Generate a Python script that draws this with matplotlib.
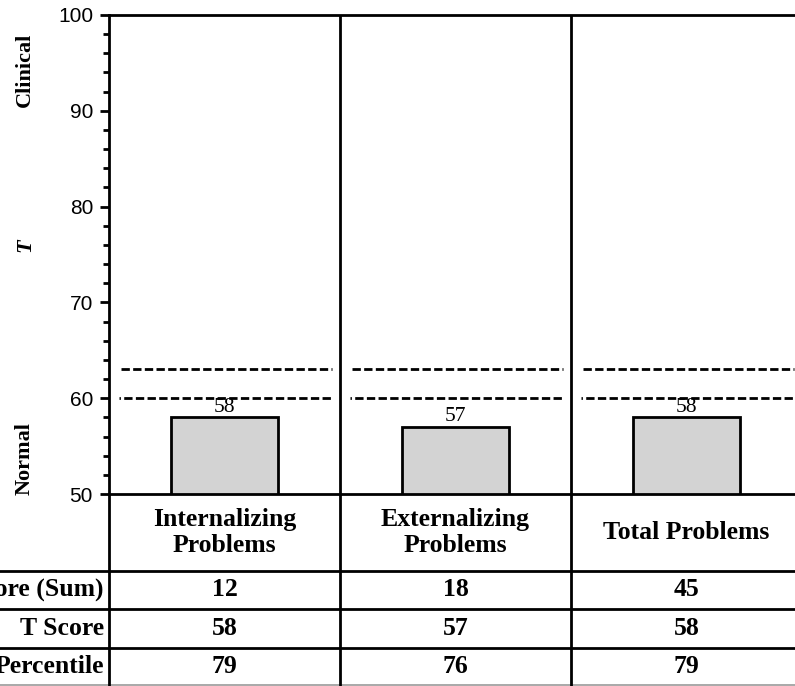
import numpy as np
import matplotlib
matplotlib.use("Agg")
import matplotlib.pyplot as plt
from matplotlib.ticker import MultipleLocator

# data
scales = ["Internalizing\nProblems", "Externalizing\nProblems", "Total Problems"]
t_scores = [58, 57, 58]
raw_scores = [12, 18, 45]
percentiles = [79, 76, 79]
row_labels = ["Raw Score (Sum)", "T Score", "Percentile"]
borderline = [60, 63]

SERIF = "Liberation Serif"
SANS = "Liberation Sans"

W, H = 795, 686
fig = plt.figure(figsize=(W / 100, H / 100), dpi=100)

# layout in pixels
left_px, top_px, base_px, panel_px = 109, 15, 494, 231
n = len(scales)
LW = 2.0

ax = fig.add_axes([left_px / W, (H - base_px) / H,
                   n * panel_px / W, (base_px - top_px) / H])
ax.set_xlim(0, n)
ax.set_ylim(50, 100)

x = np.arange(n) + 0.5
ax.bar(x, [t - 50 for t in t_scores], bottom=50, width=0.46,
       color="#d3d3d3", edgecolor="black", linewidth=LW, zorder=3)
for xi, t in zip(x, t_scores):
    ax.annotate(str(t), (xi, t), xytext=(0, 0.5), textcoords="offset points",
                ha="center", va="bottom", fontsize=15.5, family=SERIF)

# borderline / clinical cut-offs per panel
for i in range(n):
    ax.hlines(borderline[1], i + 0.05, i + 0.965, colors="black",
              linewidth=LW, linestyles=(0, (3, 1.2)), zorder=2)
    ax.hlines(borderline[0], i + 0.045, i + 0.965, colors="black",
              linewidth=LW, linestyles=(2.5, (3, 1.2)), zorder=2)

for i in range(1, n):
    ax.axvline(i, color="black", linewidth=LW)

for s in ["left", "top", "bottom"]:
    ax.spines[s].set_linewidth(LW)
ax.spines["right"].set_visible(False)
ax.set_xticks([])
ax.yaxis.set_major_locator(MultipleLocator(10))
ax.yaxis.set_minor_locator(MultipleLocator(2))
ax.tick_params(axis="y", which="major", length=6.5, width=LW, labelsize=15, pad=5)
ax.tick_params(axis="y", which="minor", length=4, width=LW)
for lab in ax.get_yticklabels():
    lab.set_family(SANS)

# side labels
fig.text(25 / W, 1 - 70 / H, "Clinical", rotation=90, ha="center", va="center",
         fontsize=16, fontweight="bold", family=SERIF)
fig.text(25 / W, 1 - 245 / H, "T", rotation=90, ha="center", va="center",
         fontsize=16, fontweight="bold", style="italic", family=SERIF)
fig.text(25 / W, 1 - 459 / H, "Normal", rotation=90, ha="center", va="center",
         fontsize=16, fontweight="bold", family=SERIF)

# table under the plot
tab = fig.add_axes([0, 0, (left_px + n * panel_px) / W, (H - base_px) / H])
tab.set_xlim(-left_px / panel_px, n)
tab.set_ylim(0, 5)
tab.axis("off")
for yy in [1, 2, 3]:
    tab.plot([-left_px / panel_px, n], [yy, yy], color="black", linewidth=LW)
tab.plot([-left_px / panel_px, n], [0.02, 0.02], color="#999999", linewidth=1.2)
for xx in range(n):
    tab.plot([xx, xx], [0, 5], color="black", linewidth=LW)

tfont = dict(fontsize=18.5, fontweight="bold", family=SERIF)
for i, name in enumerate(scales):
    tab.text(i + 0.5, 4, name, ha="center", va="center",
             linespacing=1.15, **tfont)
rows = [raw_scores, t_scores, percentiles]
for r, (label, vals) in enumerate(zip(row_labels, rows)):
    yc = 2.5 - r
    tab.text(-0.022, yc, label, ha="right", va="center", **tfont)
    for i, v in enumerate(vals):
        tab.text(i + 0.5, yc, str(v), ha="center", va="center", **tfont)

fig.savefig("out.png", dpi=100)
